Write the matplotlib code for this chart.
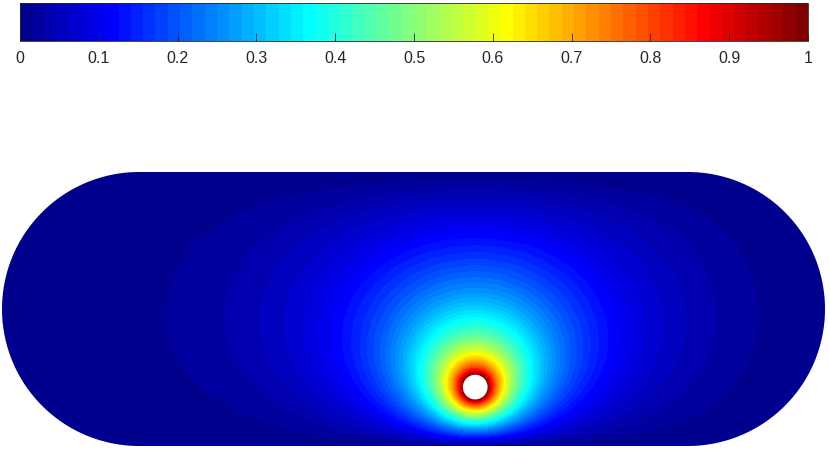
import numpy as np
import matplotlib
matplotlib.use('Agg')
import matplotlib.pyplot as plt
from matplotlib.colors import ListedColormap, Normalize
from matplotlib.patches import Polygon, Circle
import matplotlib.cm as cm

# geometry (units of the end-cap radius)
half_length = 2.0        # half length of the straight part
radius = 1.0             # radius of the end caps
hole_center = (0.45, -0.57)
hole_radius = 0.09
u_outer = 0.0            # value on the outer wall
u_hole = 1.0             # value on the hole

n_colors = 64
tick_values = [0, 0.1, 0.2, 0.3, 0.4, 0.5, 0.6, 0.7, 0.8, 0.9, 1]
tick_labels = ['0', '0.1', '0.2', '0.3', '0.4', '0.5', '0.6', '0.7', '0.8', '0.9', '1']


# matlab style jet colormap
def matlab_jet(m):
  n = int(np.ceil(m / 4))
  u = np.concatenate([np.arange(1, n + 1) / n, np.ones(n - 1), np.arange(n, 0, -1) / n])
  g = int(np.ceil(n / 2)) - (1 if m % 4 == 1 else 0) + np.arange(1, len(u) + 1)
  r = g + n
  b = g - n
  J = np.zeros((m, 3))
  J[r[r <= m] - 1, 0] = u[r <= m]
  J[g[g <= m] - 1, 1] = u[g <= m]
  J[b[b >= 1] - 1, 2] = u[b >= 1]
  return J


# solve laplace on the stadium with the hole (finite differences + CG)
h = 0.01
xs = np.arange(-half_length - radius, half_length + radius + h / 2, h)
ys = np.arange(-radius, radius + h / 2, h)
X, Y = np.meshgrid(xs, ys)
dx = np.maximum(np.abs(X) - half_length, 0)
inside = dx**2 + Y**2 < radius**2
hole = (X - hole_center[0])**2 + (Y - hole_center[1])**2 <= hole_radius**2
free = inside & ~hole
fixed = np.where(hole, u_hole, u_outer)


def lap(v):
  out = 4 * v
  out[1:, :] -= v[:-1, :]
  out[:-1, :] -= v[1:, :]
  out[:, 1:] -= v[:, :-1]
  out[:, :-1] -= v[:, 1:]
  return out


b = -lap(fixed) * free
sol = np.zeros_like(X)
r = b.copy()
p = r.copy()
rs = np.sum(r * r)
tol = 1e-10 * rs
for it in range(6000):
  Ap = lap(p) * free
  alpha = rs / np.sum(p * Ap)
  sol += alpha * p
  r -= alpha * Ap
  rs_new = np.sum(r * r)
  if rs_new < tol:
    break
  p = r + (rs_new / rs) * p
  rs = rs_new

U = np.clip(sol * free + fixed * hole, 0, 1)

cmap = ListedColormap(matlab_jet(n_colors))
norm = Normalize(0, 1)
levels = np.linspace(0, 1, n_colors + 1)

# outline of the stadium (two half circles joined by straight lines)
t_right = np.linspace(-np.pi / 2, np.pi / 2, 200)
t_left = np.linspace(np.pi / 2, 3 * np.pi / 2, 200)
outline = np.vstack([
  np.column_stack([half_length + radius * np.cos(t_right), radius * np.sin(t_right)]),
  np.column_stack([-half_length + radius * np.cos(t_left), radius * np.sin(t_left)]),
])

fig = plt.figure(figsize=(8.3, 4.51), dpi=100)
ax = fig.add_axes([2 / 830, 5 / 451, 823 / 830, 274 / 451])
cs = ax.contourf(X, Y, U, levels=levels, cmap=cmap, norm=norm)
shape = Polygon(outline, closed=True, facecolor='none', edgecolor='none')
ax.add_patch(shape)
cs.set_clip_path(shape)
ax.add_patch(Circle(hole_center, hole_radius, facecolor='white', edgecolor='none', zorder=5))
ax.set_xlim(-half_length - radius, half_length + radius)
ax.set_ylim(-radius, radius)
ax.axis('off')

cax = fig.add_axes([20 / 830, (451 - 41) / 451, 788 / 830, 38 / 451])
cb = fig.colorbar(cm.ScalarMappable(norm=norm, cmap=cmap), cax=cax,
                  orientation='horizontal', ticks=tick_values)
cb.ax.set_xticklabels(tick_labels, fontfamily='Liberation Sans', fontsize=11.5, color='#262626')
cb.ax.tick_params(direction='in', length=5.5, width=0.6, color='#262626', pad=7)
cb.outline.set_linewidth(0.6)
cb.outline.set_edgecolor('#262626')

fig.savefig('out.png', dpi=100)
